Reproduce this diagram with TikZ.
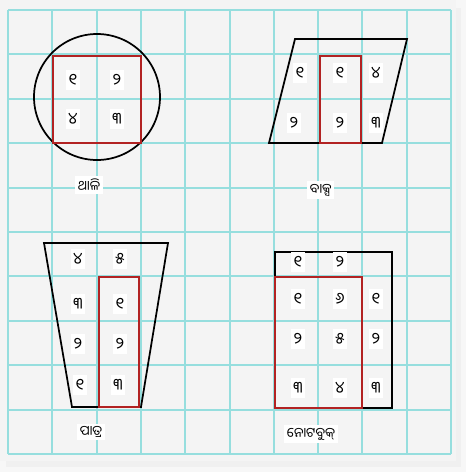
\documentclass[tikz,border=0pt]{standalone}
\usepackage{fontspec}
\newfontfamily\odia[Script=Oriya]{Noto Sans Oriya UI}
\usepackage{tikz}
\usetikzlibrary{positioning}

\definecolor{gridcol}{RGB}{150,222,222}
\definecolor{panel}{RGB}{244,244,244}
\definecolor{redline}{RGB}{178,34,34}

\begin{document}
\begin{tikzpicture}[x=0.75pt, y=-0.75pt, font=\odia\normalsize,
  dig/.style={fill=white, font=\odia\large, inner xsep=2pt, inner ysep=3pt},
  lbl/.style={fill=white, inner sep=2pt, anchor=west},
  outline/.style={line width=1.3pt},
  redbox/.style={draw=redline, line width=1.3pt}]
  \useasboundingbox (0,0) rectangle (466,472);
  % background and shadow
  \fill[white!97!black] (0,0) rectangle (466,472);
  \fill[black!6] (6,8) rectangle (461,467);
  \fill[panel] (0,0) rectangle (456,461);
  % grid
  \foreach \i in {0,...,10} {
    \draw[gridcol, line width=1.5pt] (8+44.3*\i,10) -- (8+44.3*\i,454);
    \draw[gridcol, line width=1.5pt] (8,10+44.4*\i) -- (451,10+44.4*\i);
  }
  % thali
  \draw[outline] (97,97) circle (63);
  \foreach \x/\y/\d/\n in {73/80/୧/a, 117/80/୨/b, 73/119/୪/c, 117/119/୩/d}
    \node[dig] (t\n) at (\x,\y) {\d};
  \draw[redbox] (53,56) rectangle (141,143);
  \node[lbl] (thali) at (75,185) {ଥାଳି\hspace{9pt}};
  % baksa
  \draw[outline] (295,39) -- (407,39) -- (382,143) -- (269,143) -- cycle;
  \draw[redbox] (320,56) rectangle (361,143);
  \foreach \x/\y/\d/\n in {300/73/୧/a, 340/73/୧/b, 376/73/୪/c, 294/123/୨/d, 340/123/୨/e, 376/123/୩/f}
    \node[dig] (b\n) at (\x,\y) {\d};
  \node[lbl] (baksa) at (307,190) {ବାକ୍ସ};
  % patra
  \draw[outline] (44,243) -- (168,243) -- (141,407) -- (72,407) -- cycle;
  \draw[redbox] (99,277) rectangle (139,407);
  \foreach \x/\y/\d/\n in {78/259/୪/a, 120/259/୫/b, 78/304/୩/c, 120/304/୧/d, 78/344/୨/e, 120/344/୨/f, 80/385/୧/g, 118/385/୩/h}
    \node[dig] (p\n) at (\x,\y) {\d};
  \node[lbl] (patra) at (77,432) {ପାତ୍ର\hspace{8pt}};
  % notebook
  \draw[outline] (275,252) rectangle (392,408);
  \draw[redbox] (275,277) rectangle (362,408);
  \foreach \x/\y/\d/\n in {298/262/୧/a, 340/262/୨/b, 298/299/୧/c, 340/299/୬/d, 376/299/୧/e, 298/339/୨/f, 340/339/୫/g, 376/339/୨/h, 298/388/୩/i, 340/388/୪/j, 376/388/୩/k}
    \node[dig] (n\n) at (\x,\y) {\d};
  \node[lbl] (notebook) at (284,434) {ନୋଟବୁକ୍\hspace{16pt}};
\end{tikzpicture}
\end{document}
